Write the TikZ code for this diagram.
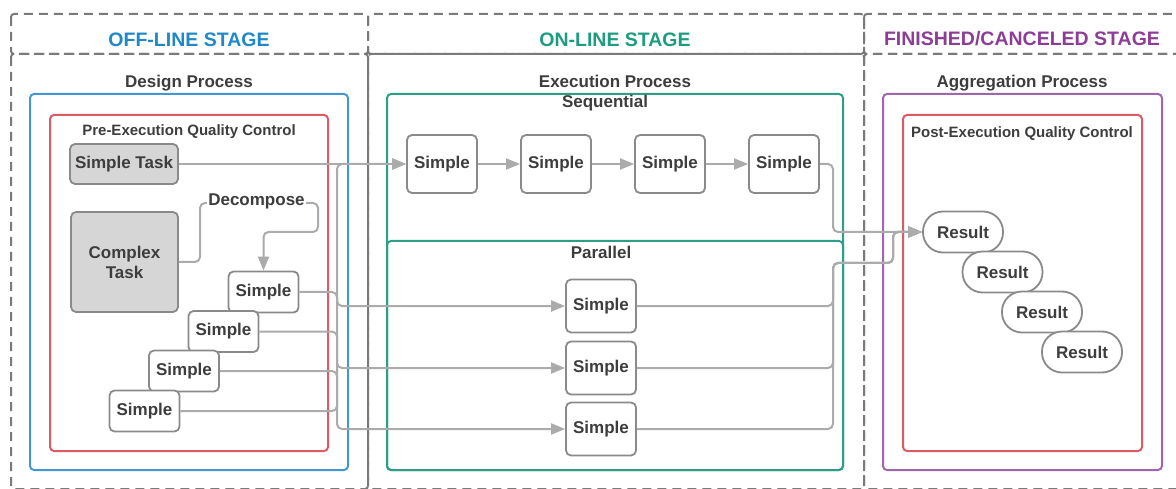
\documentclass[tikz,border=0pt]{standalone}
\usepackage{fontspec}
\setmainfont{Liberation Sans}
\usetikzlibrary{arrows.meta}

\definecolor{txt}{HTML}{3D3D3D}
\definecolor{edgegray}{HTML}{8A8A8A}
\definecolor{wiregray}{HTML}{ABABAB}
\definecolor{framegray}{HTML}{7A7A7A}
\definecolor{taskgray}{HTML}{D6D6D6}
\definecolor{stageblue}{HTML}{1E88C8}
\definecolor{stagegreen}{HTML}{1E9C80}
\definecolor{stagepurple}{HTML}{8C3E96}
\definecolor{boxblue}{HTML}{4597D3}
\definecolor{boxgreen}{HTML}{2E9E86}
\definecolor{boxpurple}{HTML}{A066AC}
\definecolor{qcred}{HTML}{DC5A64}

\tikzset{
  fs/.style={font=\fontsize{#1}{20}\selectfont\bfseries},
  stagelabel/.style={fs=19.5, text=#1, inner sep=0, anchor=base},
  heading/.style={fs=17, text=txt, inner sep=0, anchor=base},
  qclabel/.style={fs=15, text=txt, inner sep=0, anchor=base},
  framecell/.style={draw=framegray, line width=2pt, dash pattern=on 9pt off 6pt, rounded corners=3pt},
  procbox/.style={draw=#1, line width=2pt, rounded corners=4pt},
  taskbox/.style={draw=edgegray, line width=1.8pt, rounded corners=5pt, fill=taskgray,
                  text=txt, fs=17, inner sep=0, align=center},
  simplebox/.style={draw=edgegray, line width=1.8pt, rounded corners=5pt, fill=white,
                    text=txt, fs=17, inner sep=0, minimum width=70pt, minimum height=#1},
  resultbox/.style={draw=edgegray, line width=1.8pt, rounded corners=20pt, fill=white,
                    text=txt, fs=17, inner sep=0, minimum width=80pt, minimum height=41pt},
  wire/.style={draw=wiregray, line width=2pt, rounded corners=5pt},
  flow/.style={wire, -{Triangle[length=14pt,width=11pt]}},
}

\begin{document}
\begin{tikzpicture}[x=1pt, y=-1pt]
\useasboundingbox (0,0) rectangle (1176,489);

% stage grid
\draw[framecell] (11,14) rectangle (368,54);
\draw[framecell] (368,14) rectangle (864,54);
\draw[framecell] (864,14) rectangle (1184,54);
\draw[framecell] (11,54) rectangle (368,489);
\draw[framecell] (368,54) rectangle (864,489);
\draw[framecell] (864,54) rectangle (1184,489);

\node[stagelabel=stageblue]   (offline)  at (189,46.5)  {OFF-LINE STAGE};
\node[stagelabel=stagegreen]  (online)   at (615,46.5)  {ON-LINE STAGE};
\node[stagelabel=stagepurple] (finished) at (1022,46)   {FINISHED/CANCELED STAGE};

% process containers
\node[heading] (design) at (189,87.3) {Design Process};
\draw[procbox=boxblue] (30,94) rectangle (348,470);
\draw[procbox=qcred] (50,115) rectangle (328,451);
\node[qclabel] (preqc) at (189,136) {Pre-Execution Quality Control};

\node[heading] (exec) at (615,87.3) {Execution Process};
\draw[procbox=boxgreen] (387,94) rectangle (843,470);
\draw[procbox=boxgreen] (387,241) rectangle (843,470);
\node[heading] (seqlabel) at (605,107.3) {Sequential};
\node[heading] (parlabel) at (601,258.3) {Parallel};

\node[heading] (aggr) at (1022,87.3) {Aggregation Process};
\draw[procbox=boxpurple] (883,94) rectangle (1162,470);
\draw[procbox=qcred] (903,115) rectangle (1142,451);
\node[qclabel] (postqc) at (1022,137.5) {Post-Execution Quality Control};

% tasks in the design process
\node[taskbox, minimum width=108pt, minimum height=40pt] (st) at (124,164) {Simple Task};
\node[taskbox, minimum width=107pt, minimum height=100pt] (ct) at (124.5,262) {Complex\\Task};

\node[simplebox=41pt] (s1) at (263.5,292) {Simple};
\node[simplebox=41pt] (s2) at (223.5,331.5) {Simple};
\node[simplebox=41pt] (s3) at (184,371) {Simple};
\node[simplebox=41pt] (s4) at (144.5,411) {Simple};

% sequential execution
\node[simplebox=58pt] (q1) at (442,164) {Simple};
\node[simplebox=58pt] (q2) at (556,164) {Simple};
\node[simplebox=58pt] (q3) at (670,164) {Simple};
\node[simplebox=58pt] (q4) at (784,164) {Simple};

% parallel execution
\node[simplebox=53pt] (p1) at (601,306) {Simple};
\node[simplebox=53pt] (p2) at (601,368) {Simple};
\node[simplebox=53pt] (p3) at (601,429) {Simple};

% routing points
\coordinate (d1) at (200,203);
\coordinate (d2) at (318,232);
\coordinate (jx) at (337,0);
\coordinate (rx) at (833,0);
\coordinate (mrg) at (893,263);

% decomposition
\draw[flow] (ct.east) -- (ct.east -| d1) -- (d1) -- (d1 -| d2) -- (d2) -- (d2 -| s1.north) -- (s1.north);
\node[fs=17, text=txt, fill=white, inner sep=1.5pt, anchor=base] (dec) at (256.5,206) {Decompose};

% into execution
\draw[flow] (st.east) -- (q1.west);
\draw[flow] (q1) -- (q2);
\draw[flow] (q2) -- (q3);
\draw[flow] (q3) -- (q4);
\draw[flow] (s1.east) -- (s1.east -| jx) -- (jx |- p1.west) -- (p1.west);
\draw[flow] (s2.east) -- (s2.east -| jx) -- (jx |- p2.west) -- (p2.west);
\draw[flow] (s3.east) -- (s3.east -| jx) -- (jx |- p3.west) -- (p3.west);
\draw[flow] (s4.east) -- (s4.east -| jx) -- (jx |- q1.west) -- (q1.west);

% results
\node[resultbox] (r1) at (963,232) {Result};
\node[resultbox] (r2) at (1002.5,272) {Result};
\node[resultbox] (r3) at (1042,312) {Result};
\node[resultbox] (r4) at (1082,352) {Result};

% into aggregation
\draw[flow] (q4.east) -- (q4.east -| rx) -- (rx |- r1.west) -- (r1.west);
\draw[flow] (p1.east) -- (p1.east -| rx) -- (rx |- mrg) -- (mrg) -- (mrg |- r1.west) -- (r1.west);
\draw[flow] (p2.east) -- (p2.east -| rx) -- (rx |- mrg) -- (mrg) -- (mrg |- r1.west) -- (r1.west);
\draw[flow] (p3.east) -- (p3.east -| rx) -- (rx |- mrg) -- (mrg) -- (mrg |- r1.west) -- (r1.west);
\end{tikzpicture}
\end{document}
